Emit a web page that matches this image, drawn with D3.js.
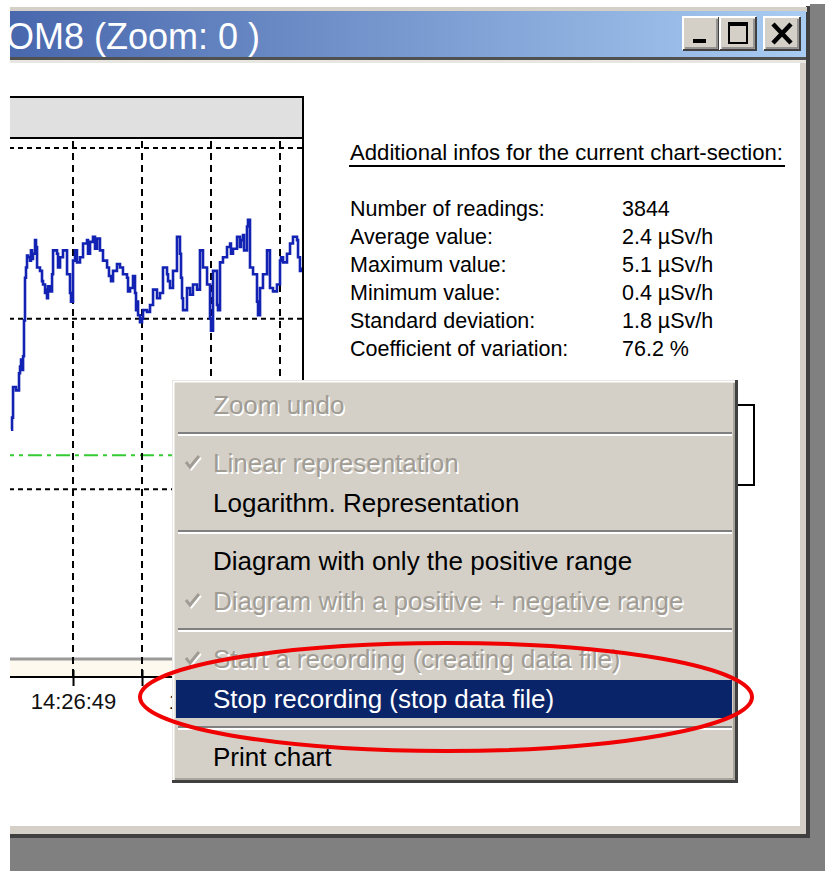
<!DOCTYPE html>
<html>
<head>
<meta charset="utf-8">
<script src="https://cdn.jsdelivr.net/npm/d3@7"></script>
<style>
  body { margin: 0; background: #fff; }
  svg { display: block; }
</style>
</head>
<body>
<div id="chart"></div>
<script>
const width = 825;
const height = 871;
const font = "'Liberation Sans', Arial, sans-serif";

// readings: [minutes relative to 14:26:49, dose rate in µSv/h]
const readings = [
  [-6.74,1.35],[-6.63,1.42],[-6.52,1.60],[-6.2,1.58],[-5.87,1.68],[-5.76,1.72],[-5.65,1.76],[-5.54,1.70],
  [-5.43,1.78],[-5.33,1.99],[-5.22,2.24],[-5.11,2.30],[-5.0,2.37],[-4.89,2.36],[-4.67,2.34],[-4.57,2.40],
  [-4.46,2.35],[-4.35,2.38],[-4.13,2.46],[-4.02,2.42],[-3.91,2.30],[-3.59,2.28],[-3.37,2.22],[-3.26,2.20],
  [-3.04,2.15],[-2.93,2.17],[-2.83,2.12],[-2.72,2.19],[-2.5,2.16],[-2.28,2.26],[-2.17,2.40],[-1.74,2.38],
  [-1.63,2.30],[-1.41,2.36],[-1.09,2.40],[-0.65,2.26],[-0.33,2.15],[-0.22,2.10],[0,2.34],[0.22,2.40],
  [0.43,2.33],[0.76,2.36],[1.09,2.44],[1.52,2.46],[1.63,2.38],[1.85,2.45],[2.17,2.48],[2.39,2.41],
  [2.61,2.47],[2.93,2.40],[3.26,2.34],[3.7,2.30],[3.91,2.25],[4.13,2.22],[4.35,2.28],[4.78,2.32],
  [5.11,2.30],[5.43,2.26],[5.87,2.24],[5.98,2.16],[6.2,2.18],[6.52,2.25],[6.74,2.15],[6.85,2.05],
  [6.96,2.10],[7.07,2.02],[7.28,1.98],[7.5,2.00],[7.61,2.05],[8.04,2.04],[8.37,2.08],[8.7,2.17],
  [9.13,2.12],[9.46,2.15],[9.78,2.30],[10.22,2.26],[10.33,2.22],[10.54,2.18],[10.87,2.28],[11.3,2.48],
  [11.63,2.38],[11.74,2.24],[11.85,2.12],[11.96,2.05],[12.39,2.18],[12.72,2.14],[13.04,2.20],[13.48,2.17],
  [13.8,2.40],[14.13,2.30],[14.57,2.20],[14.89,2.00],[15.0,1.93],[15.22,2.28],[15.65,2.08],[15.76,2.05],
  [15.98,2.33],[16.3,2.36],[16.74,2.42],[17.07,2.44],[17.17,2.38],[17.39,2.41],[17.83,2.48],[18.15,2.42],
  [18.26,2.46],[18.48,2.49],[18.59,2.40],[18.91,2.54],[19.02,2.58],[19.24,2.30],[19.57,2.26],[20.0,2.10],
  [20.11,2.02],[20.33,2.18],[20.65,2.26],[21.09,2.40],[21.41,2.18],[21.74,2.16],[22.17,2.20],[22.5,2.34],
  [22.61,2.36],[22.83,2.33],[23.26,2.38],[23.59,2.44],[23.91,2.48],[24.35,2.46],[24.46,2.36],[24.67,2.28],
  [24.89,2.30]
];

const gridMinutes = [-7.5, 0, 7.5, 15, 22.5];
const gridValues = [1, 2, 3];
const alarmLevel = 1.2;
const tickMinutes = [0, 15];
const tickLabels = ["14:26:49", "14:41:49"];

const titleText = "OM8 (Zoom: 0 )";
const infoTitle = "Additional infos for the current chart-section:";
const statLabels = ["Number of readings:", "Average value:", "Maximum value:", "Minimum value:", "Standard deviation:", "Coefficient of variation:"];
const statValues = ["3844", "2.4 µSv/h", "5.1 µSv/h", "0.4 µSv/h", "1.8 µSv/h", "76.2 %"];

const menuItems = [
  { text: "Zoom undo", disabled: true },
  { separator: true },
  { text: "Linear representation", disabled: true, checked: true },
  { text: "Logarithm. Representation" },
  { separator: true },
  { text: "Diagram with only the positive range" },
  { text: "Diagram with a positive + negative range", disabled: true, checked: true },
  { separator: true },
  { text: "Start a recording (creating data file)", disabled: true, checked: true },
  { text: "Stop recording (stop data file)", highlighted: true },
  { separator: true },
  { text: "Print chart" }
];

const svg = d3.select("#chart")
  .append("svg")
  .attr("width", width)
  .attr("height", height)
  .style("font-family", font);

const defs = svg.append("defs");

// ---------- window frame ----------
svg.append("rect").attr("width", width).attr("height", height).attr("fill", "#fff");
svg.append("rect").attr("x", 810).attr("y", 4).attr("width", 15).attr("height", height).attr("fill", "#808080");
svg.append("rect").attr("x", 10).attr("y", 838).attr("width", width - 10).attr("height", 33).attr("fill", "#808080");
svg.append("rect").attr("x", 10).attr("y", 826).attr("width", 800).attr("height", 9).attr("fill", "#d4d0c8");
svg.append("rect").attr("x", 10).attr("y", 834).attr("width", 800).attr("height", 4).attr("fill", "#404040");
svg.append("rect").attr("x", 800).attr("y", 8).attr("width", 7).attr("height", 826).attr("fill", "#d4d0c8");
svg.append("rect").attr("x", 806).attr("y", 6).attr("width", 4).attr("height", 832).attr("fill", "#404040");

// title bar
const grad = defs.append("linearGradient").attr("id", "titleGrad");
grad.append("stop").attr("offset", "0%").attr("stop-color", "#4867ad");
grad.append("stop").attr("offset", "100%").attr("stop-color", "#a9ccf2");

svg.append("rect").attr("x", 10).attr("y", 7).attr("width", 797).attr("height", 5).attr("fill", "#d4d0c8");
svg.append("rect").attr("x", 10).attr("y", 11).attr("width", 796).attr("height", 47).attr("fill", "url(#titleGrad)");
svg.append("rect").attr("x", 10).attr("y", 57).attr("width", 796).attr("height", 3).attr("fill", "#505050");
svg.append("rect").attr("x", 10).attr("y", 60).attr("width", 796).attr("height", 3).attr("fill", "#e8e6e0");

defs.append("clipPath").attr("id", "winClip")
  .append("rect").attr("x", 10).attr("y", 0).attr("width", 800).attr("height", height);

svg.append("text")
  .attr("clip-path", "url(#winClip)")
  .attr("x", 6).attr("y", 36).attr("dy", "0.35em")
  .attr("font-size", 36).attr("fill", "#fff")
  .text(titleText);

// caption buttons
const buttons = [683, 720, 764];
const btn = svg.selectAll(".capbtn").data(buttons).enter().append("g")
  .attr("transform", d => `translate(${d},17)`);
btn.append("rect").attr("width", 36).attr("height", 33).attr("fill", "#d4d0c8");
btn.append("path").attr("d", "M0,33 V0 H36").attr("fill", "none").attr("stroke", "#fff").attr("stroke-width", 2);
btn.append("path").attr("d", "M0,33 H36 V0").attr("fill", "none").attr("stroke", "#404040").attr("stroke-width", 2);
btn.append("path").attr("d", "M2,31 H34 V2").attr("fill", "none").attr("stroke", "#808080").attr("stroke-width", 1.5);

svg.append("rect").attr("x", 693).attr("y", 39).attr("width", 13).attr("height", 4).attr("fill", "#000");
svg.append("rect").attr("x", 729).attr("y", 23).attr("width", 18).attr("height", 20)
  .attr("fill", "none").attr("stroke", "#000").attr("stroke-width", 2);
svg.append("rect").attr("x", 729).attr("y", 22).attr("width", 18).attr("height", 4).attr("fill", "#000");
svg.append("path").attr("d", "M773,24 L791,43 M791,24 L773,43")
  .attr("stroke", "#000").attr("stroke-width", 4.5);

// ---------- chart ----------
const x = d3.scaleLinear().domain([-6.85, 25]).range([10, 303]);
const y = d3.scaleLinear().domain([0, 3]).range([660, 148]);

const chart = svg.append("g").attr("clip-path", "url(#winClip)");

chart.append("rect").attr("x", 0).attr("y", 97).attr("width", 303).attr("height", 41)
  .attr("fill", "#e0e0e0").attr("stroke", "#000").attr("stroke-width", 2);

// bottom strip
chart.append("rect").attr("x", 0).attr("y", 660).attr("width", 303).attr("height", 17).attr("fill", "#fdf9ee");
chart.append("line").attr("x1", 0).attr("x2", 303).attr("y1", 659).attr("y2", 659)
  .attr("stroke", "#9a9a9a").attr("stroke-width", 3);

chart.selectAll(".hgrid").data(gridValues).enter().append("line")
  .attr("x1", 0).attr("x2", 303)
  .attr("y1", d => y(d)).attr("y2", d => y(d))
  .attr("stroke", "#000").attr("stroke-width", 2).attr("stroke-dasharray", "5 4");

chart.append("line")
  .attr("x1", 0).attr("x2", 303)
  .attr("y1", y(alarmLevel)).attr("y2", y(alarmLevel))
  .attr("stroke", "#33cc33").attr("stroke-width", 2).attr("stroke-dasharray", "14 5 4 5");

chart.selectAll(".vgrid").data(gridMinutes).enter().append("line")
  .attr("x1", d => x(d)).attr("x2", d => x(d))
  .attr("y1", 141).attr("y2", 677)
  .attr("stroke", "#000").attr("stroke-width", 2).attr("stroke-dasharray", "7 5");

defs.append("clipPath").attr("id", "plotClip")
  .append("rect").attr("x", 10).attr("y", 140).attr("width", 292).attr("height", 519);

const line = d3.line()
  .x(d => x(d[0]))
  .y(d => y(d[1]))
  .curve(d3.curveStepAfter);

chart.append("path")
  .datum(readings)
  .attr("clip-path", "url(#plotClip)")
  .attr("d", line)
  .attr("fill", "none")
  .attr("stroke", "#1222b2")
  .attr("stroke-width", 2.6);

chart.append("line").attr("x1", 303).attr("x2", 303).attr("y1", 97).attr("y2", 677)
  .attr("stroke", "#000").attr("stroke-width", 2);

const xAxis = d3.axisBottom(x)
  .tickValues(gridMinutes)
  .tickSize(9)
  .tickPadding(7)
  .tickFormat(d => {
    const i = tickMinutes.indexOf(d);
    return i >= 0 ? tickLabels[i] : "";
  });

const axisG = chart.append("g")
  .attr("transform", "translate(0,677)")
  .call(xAxis);
axisG.select(".domain").remove();
axisG.selectAll(".tick line").attr("stroke", "#000").attr("stroke-width", 2).attr("y1", -7);
axisG.selectAll(".tick text")
  .attr("font-family", font).attr("font-size", 22).attr("fill", "#111");
chart.append("line").attr("x1", 0).attr("x2", 303).attr("y1", 677).attr("y2", 677)
  .attr("stroke", "#000").attr("stroke-width", 2);

// ---------- info panel ----------
svg.append("text")
  .attr("x", 350).attr("y", 152).attr("dy", "0.35em")
  .attr("font-size", 21.5).attr("fill", "#000")
  .attr("textLength", 433).attr("lengthAdjust", "spacingAndGlyphs")
  .text(infoTitle);
svg.append("line").attr("x1", 349).attr("x2", 785).attr("y1", 166).attr("y2", 166)
  .attr("stroke", "#000").attr("stroke-width", 2);

const rowY = d3.scalePoint().domain(d3.range(statLabels.length)).range([208, 348]);

svg.selectAll(".statLabel").data(statLabels).enter().append("text")
  .attr("x", 350).attr("y", (d, i) => rowY(i)).attr("dy", "0.35em")
  .attr("font-size", 21.5).attr("fill", "#000")
  .text(d => d);

svg.selectAll(".statValue").data(statValues).enter().append("text")
  .attr("x", 622).attr("y", (d, i) => rowY(i)).attr("dy", "0.35em")
  .attr("font-size", 21.5).attr("fill", "#000")
  .text(d => d);

svg.append("rect").attr("x", 350).attr("y", 405).attr("width", 404).attr("height", 80)
  .attr("fill", "#fff").attr("stroke", "#000").attr("stroke-width", 2);

// ---------- context menu ----------
const menuX = 172, menuY = 380, menuW = 566, menuH = 403;
const menu = svg.append("g");

menu.append("rect").attr("x", menuX).attr("y", menuY).attr("width", menuW).attr("height", menuH)
  .attr("fill", "#d4d0c8");
menu.append("path").attr("d", `M${menuX + 1.5},${menuY + menuH} V${menuY + 1.5} H${menuX + menuW}`)
  .attr("fill", "none").attr("stroke", "#fff").attr("stroke-width", 2);
menu.append("path").attr("d", `M${menuX},${menuY + menuH - 1.5} H${menuX + menuW - 1.5} V${menuY}`)
  .attr("fill", "none").attr("stroke", "#404040").attr("stroke-width", 3);
menu.append("path").attr("d", `M${menuX + 3},${menuY + menuH - 4} H${menuX + menuW - 4} V${menuY + 3}`)
  .attr("fill", "none").attr("stroke", "#9a968e").attr("stroke-width", 1.5);

let cy = menuY + 5;
menuItems.forEach(item => {
  if (item.separator) {
    menu.append("line").attr("x1", menuX + 6).attr("x2", menuX + menuW - 6)
      .attr("y1", cy + 8).attr("y2", cy + 8).attr("stroke", "#808080").attr("stroke-width", 2);
    menu.append("line").attr("x1", menuX + 6).attr("x2", menuX + menuW - 6)
      .attr("y1", cy + 10).attr("y2", cy + 10).attr("stroke", "#fff").attr("stroke-width", 2);
    cy += 18;
    return;
  }
  const mid = cy + 20;
  if (item.highlighted) {
    menu.append("rect").attr("x", menuX + 4).attr("y", cy + 1).attr("width", menuW - 10).attr("height", 38)
      .attr("fill", "#0a246a");
  }
  const color = item.highlighted ? "#fff" : item.disabled ? "#a09c94" : "#000";
  if (item.disabled) {
    menu.append("text").attr("x", 214.5).attr("y", mid + 1.5).attr("dy", "0.35em")
      .attr("font-size", 26).attr("fill", "#fff").text(item.text);
    if (item.checked) {
      menu.append("path").attr("d", `M${187.5},${mid + 0.5} l4,5 l9,-11`)
        .attr("fill", "none").attr("stroke", "#fff").attr("stroke-width", 3);
    }
  }
  if (item.checked) {
    menu.append("path").attr("d", `M${186},${mid - 1} l4,5 l9,-11`)
      .attr("fill", "none").attr("stroke", color).attr("stroke-width", 3);
  }
  menu.append("text").attr("x", 213).attr("y", mid).attr("dy", "0.35em")
    .attr("font-size", 26).attr("fill", color).text(item.text);
  cy += 40;
});

// red ellipse
svg.append("ellipse")
  .attr("cx", 446).attr("cy", 697).attr("rx", 306).attr("ry", 54)
  .attr("fill", "none").attr("stroke", "#f00000").attr("stroke-width", 4);
</script>
</body>
</html>
